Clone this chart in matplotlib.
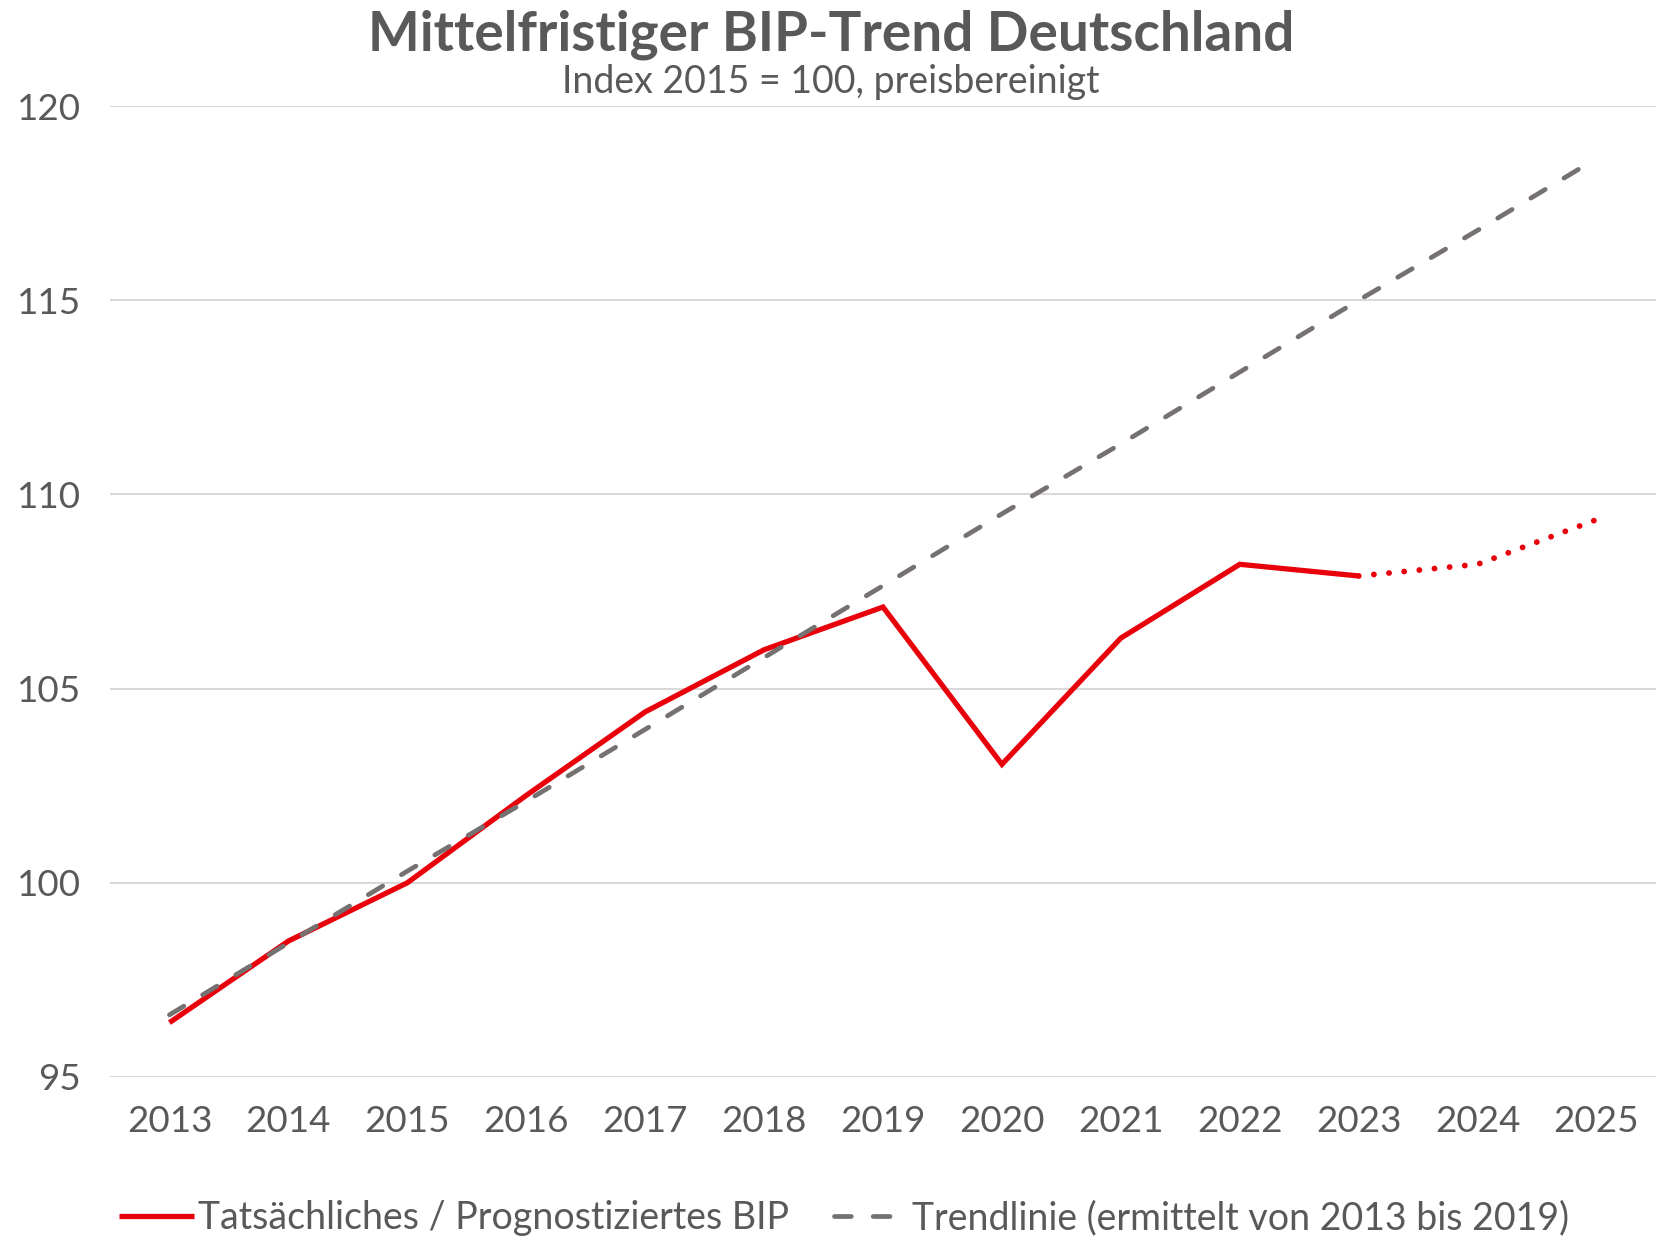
import numpy as np
import matplotlib.pyplot as plt

# Data (Index 2015 = 100)
years = [2013, 2014, 2015, 2016, 2017, 2018, 2019, 2020, 2021, 2022, 2023, 2024, 2025]
bip_actual = [96.4, 98.5, 100.0, 102.25, 104.4, 106.0, 107.1, 103.05, 106.3, 108.2, 107.9]
bip_forecast_years = [2023, 2024, 2025]
bip_forecast = [107.9, 108.2, 109.35]
trend = [96.6, 98.45, 100.3, 102.1, 103.95, 105.8, 107.65, 109.5, 111.3, 113.15, 115.0, 116.8, 118.65]

RED = '#E8000B'
GREY = '#767171'
TXT = '#595959'

plt.rcParams['font.family'] = ['Lato', 'DejaVu Sans']

fig = plt.figure(figsize=(16.62, 12.38), dpi=100)
ax = fig.add_axes([110 / 1662, 1 - 1077 / 1238, (1656 - 110) / 1662, (1077 - 106) / 1238])

ax.plot(years[:len(bip_actual)], bip_actual, color=RED, lw=3.8, solid_capstyle='butt',
        solid_joinstyle='miter', zorder=3, label='Tatsächliches / Prognostiziertes BIP')
ax.plot(bip_forecast_years, bip_forecast, color=RED, lw=4.2, linestyle=(0, (0.01, 2.6)),
        dash_capstyle='round', zorder=3)
ax.plot(years, trend, color=GREY, lw=3.4, linestyle=(0, (3.56, 4.64)), dash_capstyle='round',
        zorder=4, label='Trendlinie (ermittelt von 2013 bis 2019)')

ax.set_xlim(2012.5, 2025.5)
ax.set_ylim(95, 120)
ax.set_xticks(years)
ax.set_yticks([95, 100, 105, 110, 115, 120])
ax.tick_params(length=0, labelsize=26.5, labelcolor=TXT)
ax.tick_params(axis='y', pad=21)
ax.tick_params(axis='x', pad=20)
ax.grid(axis='y', color='#D9D9D9', lw=1.5)
ax.set_axisbelow(True)
for s in ax.spines.values():
    s.set_visible(False)

fig.text(0.5, 1 - 50 / 1238, 'Mittelfristiger BIP-Trend Deutschland', ha='center', va='baseline',
         fontsize=39.5, fontweight='bold', color=TXT)
fig.text(0.5, 1 - 93 / 1238, 'Index 2015 = 100, preisbereinigt', ha='center', va='baseline',
         fontsize=27, color=TXT)

fig.legend(loc='center', bbox_to_anchor=(0.508, 1 - 1218 / 1238), ncol=2, frameon=False,
           fontsize=27, labelcolor=TXT, handlelength=2.0, handletextpad=0.1, columnspacing=1.2)

fig.savefig('out.png', dpi=100)
